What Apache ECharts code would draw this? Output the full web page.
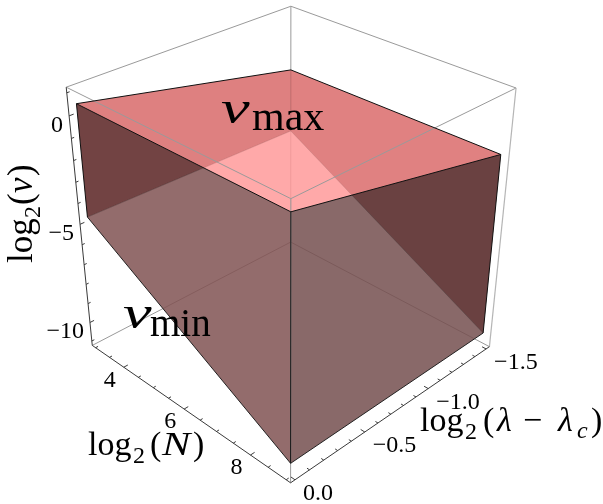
<!DOCTYPE html>
<html>
<head>
<meta charset="utf-8">
<style>html,body{margin:0;background:#fff}#chart{width:603px;height:504px}</style>
<script src="https://cdn.jsdelivr.net/npm/echarts@6/dist/echarts.min.js"></script>
</head>
<body>
<div id="chart"></div>
<script>
// data
var nValues = [3, 9];
var lambdaValues = [0, -1.5];
// v at the corners, order: [n, lambda] = [3,0] [9,0] [9,-1.5] [3,-1.5]
var vMaxValues = [0.53, 0.54, -1.68, -1.72];
var vMinValues = [-4.65, -10.56, -10.5, -4.85];
// plot range with the 2% padding
var nRange = [2.88, 9.12];
var lambdaRange = [0.03, -1.53];
var vRange = [-11.24, 1.24];
// ticks
var vTicks = [1, 0, -1, -2, -3, -4, -5, -6, -7, -8, -9, -10, -11];
var vTickLabels = ['0', '\u22125', '\u221210'];
var vMajor = [0, -5, -10];
var nTicks = [3, 3.5, 4, 4.5, 5, 5.5, 6, 6.5, 7, 7.5, 8, 8.5, 9];
var nTickLabels = ['4', '6', '8'];
var nMajor = [4, 6, 8];
var lambdaTicks = [0, -0.1, -0.2, -0.3, -0.4, -0.5, -0.6, -0.7, -0.8, -0.9, -1, -1.1, -1.2, -1.3, -1.4, -1.5];
var lambdaTickLabels = ['0.0', '\u22120.5', '\u22121.0', '\u22121.5'];
var lambdaMajor = [0, -0.5, -1, -1.5];

// where the box corners land on screen, used to fit the camera
var boxCorners = [
    [0, 0, 0, 92, 345], [1, 0, 0, 291, 483], [1, 1, 0, 489, 347], [0, 1, 0, 291, 242],
    [0, 0, 1, 66, 88], [1, 0, 1, 291, 198], [1, 1, 1, 516, 88], [0, 1, 1, 291, 6]
];

// echarts has no 3d axes without the gl extension, so fit a projective camera (least squares)
function fitCamera(corners) {
    var rows = [], rhs = [];
    corners.forEach(function (c) {
        rows.push([c[0], c[1], c[2], 1, 0, 0, 0, 0, -c[3] * c[0], -c[3] * c[1], -c[3] * c[2]]);
        rhs.push(c[3]);
        rows.push([0, 0, 0, 0, c[0], c[1], c[2], 1, -c[4] * c[0], -c[4] * c[1], -c[4] * c[2]]);
        rhs.push(c[4]);
    });
    var n = 11, m = [];
    for (var i = 0; i < n; i++) {
        m[i] = [];
        for (var j = 0; j <= n; j++) {
            var s = 0;
            for (var k = 0; k < rows.length; k++) {
                s += rows[k][i] * (j < n ? rows[k][j] : rhs[k]);
            }
            m[i][j] = s;
        }
    }
    for (i = 0; i < n; i++) {
        var p = i;
        for (k = i + 1; k < n; k++) {
            if (Math.abs(m[k][i]) > Math.abs(m[p][i])) p = k;
        }
        var t = m[i]; m[i] = m[p]; m[p] = t;
        for (k = 0; k < n; k++) {
            if (k === i) continue;
            var f = m[k][i] / m[i][i];
            for (j = i; j <= n; j++) m[k][j] -= f * m[i][j];
        }
    }
    return m.map(function (r, idx) { return r[n] / r[idx]; });
}
var cam = fitCamera(boxCorners);

function project(n, lambda, v) {
    var a = (n - nRange[0]) / (nRange[1] - nRange[0]);
    var b = (lambda - lambdaRange[0]) / (lambdaRange[1] - lambdaRange[0]);
    var c = (v - vRange[0]) / (vRange[1] - vRange[0]);
    var w = cam[8] * a + cam[9] * b + cam[10] * c + 1;
    return [
        (cam[0] * a + cam[1] * b + cam[2] * c + cam[3]) / w,
        (cam[4] * a + cam[5] * b + cam[6] * c + cam[7]) / w
    ];
}

var n0 = nValues[0], n1 = nValues[1], l0 = lambdaValues[0], l1 = lambdaValues[1];
var cornersNL = [[n0, l0], [n1, l0], [n1, l1], [n0, l1]];
function topPt(i) { return [cornersNL[i][0], cornersNL[i][1], vMaxValues[i]]; }
function botPt(i) { return [cornersNL[i][0], cornersNL[i][1], vMinValues[i]]; }
function wall(i, j) { return [topPt(i), topPt(j), botPt(j), botPt(i)]; }
function boxPt(i, j, k) { return [nRange[i], lambdaRange[j], vRange[k]]; }

var GREY = '#9a9a9a', AXIS = '#3a3a3a';
var items = [];
function face(pts, fill) { items.push({ pts: pts, fill: fill }); }
function line(pts, color, width) { items.push({ pts: pts, color: color, width: width || 1 }); }

// back of the box
line([boxPt(0, 0, 1), boxPt(0, 1, 1), boxPt(1, 1, 1)], GREY);
line([boxPt(0, 1, 1), boxPt(0, 1, 0)], GREY);
line([boxPt(0, 0, 0), boxPt(0, 1, 0), boxPt(1, 1, 0)], GREY);
// back walls and lower sheet
face(wall(3, 0), 'rgba(160,46,46,0.7)');
face(wall(2, 3), 'rgba(166,50,50,0.7)');
face([botPt(0), botPt(1), botPt(2), botPt(3)], 'rgba(255,162,162,0.7)');
line([botPt(0), botPt(3), botPt(2)], 'rgba(60,30,30,0.3)');
line([topPt(3), botPt(3)], 'rgba(60,30,30,0.3)');
// front walls and upper sheet
face(wall(0, 1), 'rgba(40,26,26,0.5)');
face(wall(1, 2), 'rgba(20,20,20,0.5)');
face([topPt(0), topPt(1), topPt(2), topPt(3)], 'rgba(255,148,148,0.5)');
// front of the box
line([boxPt(0, 0, 1), boxPt(1, 0, 1), boxPt(1, 1, 1)], GREY);
line([boxPt(1, 0, 1), boxPt(1, 0, 0)], GREY);
line([boxPt(1, 1, 1), boxPt(1, 1, 0)], '#b5b5b5', 1.2);
line([boxPt(0, 0, 1), boxPt(0, 0, 0)], AXIS);
line([boxPt(0, 0, 0), boxPt(1, 0, 0), boxPt(1, 1, 0)], AXIS);
// solid edges
line([topPt(0), topPt(1), topPt(2), topPt(3), topPt(0)], '#111');
line([topPt(0), botPt(0)], '#111');
line([topPt(1), botPt(1)], '#111');
line([topPt(2), botPt(2)], '#111');
line([botPt(0), botPt(1), botPt(2)], '#222');

// ticks
var dLam = lambdaRange[1] - lambdaRange[0], dN = nRange[1] - nRange[0];
vTicks.forEach(function (v) {
    var len = vMajor.indexOf(v) >= 0 ? 0.018 : 0.011;
    line([[nRange[0], lambdaRange[0], v], [nRange[0], lambdaRange[0] + dLam * len, v]], AXIS);
});
nTicks.forEach(function (n) {
    var len = nMajor.indexOf(n) >= 0 ? 0.018 : 0.011;
    line([[n, lambdaRange[0], vRange[0]], [n, lambdaRange[0] + dLam * len, vRange[0]]], AXIS);
});
lambdaTicks.forEach(function (l) {
    var len = lambdaMajor.indexOf(l) >= 0 ? 0.018 : 0.011;
    line([[nRange[1], l, vRange[0]], [nRange[1] - dN * len, l, vRange[0]]], AXIS);
});

function renderItem(params, api) {
    var it = items[params.dataIndex];
    var pts = it.pts.map(function (p) {
        return api.coord(project(p[0], p[1], p[2]));
    });
    if (it.fill) {
        return { type: 'polygon', shape: { points: pts }, style: { fill: it.fill, stroke: null }, silent: true };
    }
    return { type: 'polyline', shape: { points: pts }, style: { fill: null, stroke: it.color, lineWidth: it.width }, silent: true };
}

// text helpers. y is given as the baseline
var SERIF = '"Liberation Serif", serif';
function piece(text, x, base, size, italic, align, scaleX) {
    return {
        type: 'text',
        silent: true,
        z: 100,
        x: x,
        y: base - 0.34 * size,
        scaleX: scaleX || 1,
        style: {
            text: text,
            font: (italic ? 'italic ' : '') + size + 'px ' + SERIF,
            fill: '#000', align: align || 'left', verticalAlign: 'middle'
        }
    };
}
function group(x, y, children, rotation) {
    return { type: 'group', x: x, y: y, rotation: rotation || 0, silent: true, z: 100, children: children };
}
var TICK_FONT = 24;
function tickText(list, majors, labels, toPoint, dx, dy, align) {
    majors.forEach(function (m, i) {
        var p = toPoint(m);
        list.push(piece(labels[i], p[0] + dx, p[1] + dy + 0.34 * TICK_FONT, TICK_FONT, false, align));
    });
}

var texts = [];
tickText(texts, vMajor, vTickLabels, function (v) { return project(nRange[0], lambdaRange[0], v); }, -6, 9.5, 'right');
tickText(texts, nMajor, nTickLabels, function (n) { return project(n, lambdaRange[0], vRange[0]); }, -14, 13, 'center');
tickText(texts, lambdaMajor, lambdaTickLabels, function (l) { return project(nRange[1], l, vRange[0]); }, 8, 14, 'left');

texts.push(group(35, 263, [
    piece('log', 0, 0, 35), piece('2', 45, 7, 24), piece('(', 58, 0, 35),
    piece('v', 70, 0, 35, true), piece(')', 87, 0, 35)
], Math.PI / 2));
texts.push(group(88, 458, [
    piece('log', 0, 0, 34), piece('2', 45, 7, 24), piece('(', 62, 0, 34),
    piece('N', 74, 0, 34, true, 'left', 1.25), piece(')', 105, 0, 34)
]));
texts.push(group(420, 434, [
    piece('log', 0, 0, 34), piece('2', 45, 7, 24), piece('(', 63, 0, 34),
    piece('\u03bb', 77, 0, 34, true), piece('\u2212', 103, 0, 34), piece('\u03bb', 138, 0, 34, true),
    piece('c', 157, 6, 24, true), piece(')', 171, 0, 34)
]));
texts.push(group(221, 127, [piece('v', 0, 0, 46, true, 'left', 1.4), piece('max', 31, 6, 42)]));
texts.push(group(123, 332, [piece('v', 0, 0, 46, true, 'left', 1.4), piece('min', 27, 7, 39)]));

var chart = echarts.init(document.getElementById('chart'), null, { renderer: 'canvas' });
chart.setOption({
    animation: false,
    backgroundColor: '#fff',
    grid: { left: 0, right: 0, top: 0, bottom: 0 },
    xAxis: { type: 'value', min: 0, max: 603, show: false },
    yAxis: { type: 'value', min: 0, max: 504, inverse: true, show: false },
    graphic: { z: 100, elements: texts },
    series: [{
        type: 'custom',
        coordinateSystem: 'cartesian2d',
        clip: false,
        silent: true,
        z: 1,
        data: items.map(function (it, i) { return [i]; }),
        encode: { x: 0 },
        renderItem: renderItem
    }]
});
</script>
</body>
</html>
